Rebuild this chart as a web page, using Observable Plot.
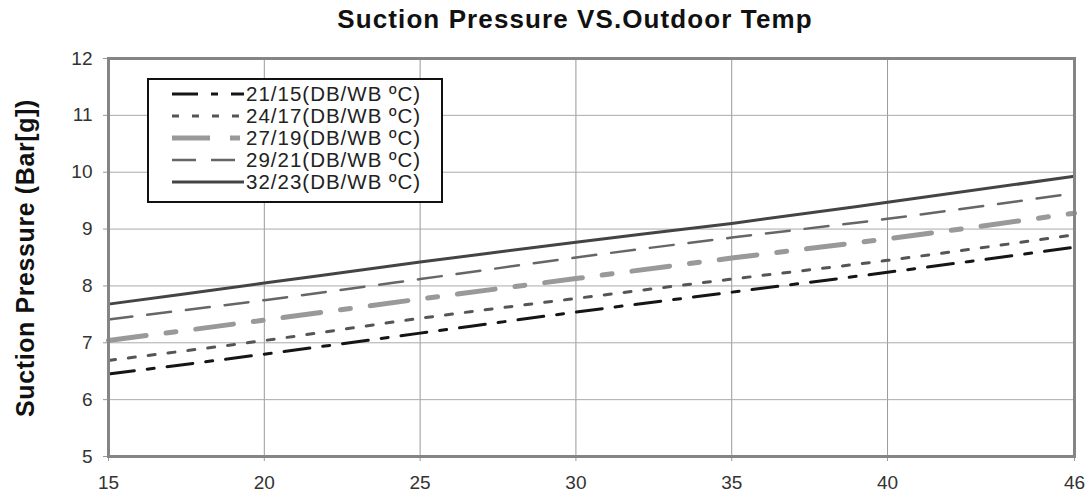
<!DOCTYPE html>
<html>
<head>
<meta charset="utf-8">
<script src="https://cdn.jsdelivr.net/npm/d3@7"></script>
<script src="https://cdn.jsdelivr.net/npm/@observablehq/plot@0.6"></script>
<style>
  body { margin: 0; background: #fff; font-family: "Liberation Sans", Arial, sans-serif; }
  #wrap { position: relative; width: 1091px; height: 499px; }
  #title { position: absolute; left: 0; top: 0; width: 1091px; height: 40px; }
  #title div { position: absolute; left: 69px; width: 1012px; top: 4px; text-align: center;
    font-weight: bold; font-size: 26px; letter-spacing: 1.1px; color: #111; }
  #chart { position: absolute; left: 0; top: 40px; }
  #ylab { position: absolute; left: 25px; top: 258px; transform: translate(-50%, -50%) rotate(-90deg);
    white-space: nowrap; font-weight: bold; font-size: 25px; letter-spacing: 0.6px; color: #111; }
  #legend { position: absolute; left: 147px; top: 78px; width: 292px; height: 121px;
    border: 2px solid #111; background: #fff; }
</style>
</head>
<body>
<div id="wrap">
  <div id="title"><div>Suction Pressure VS.Outdoor Temp</div></div>
  <div id="chart"></div>
  <div id="ylab">Suction Pressure (Bar[g])</div>
  <div id="legend"></div>
</div>
<script>
const temps   = [15, 20, 25, 30, 35, 40, 46];
const s21_15  = [6.45, 6.80, 7.17, 7.54, 7.89, 8.24, 8.68];
const s24_17  = [6.69, 7.04, 7.43, 7.78, 8.12, 8.45, 8.90];
const s27_19  = [7.04, 7.40, 7.77, 8.13, 8.49, 8.83, 9.28];
const s29_21  = [7.41, 7.75, 8.12, 8.50, 8.85, 9.18, 9.63];
const s32_23  = [7.68, 8.05, 8.42, 8.77, 9.10, 9.47, 9.93];
const seriesNames = ["21/15(DB/WB ºC)", "24/17(DB/WB ºC)", "27/19(DB/WB ºC)", "29/21(DB/WB ºC)", "32/23(DB/WB ºC)"];
const xTicks = [15, 20, 25, 30, 35, 40, 46];
const yTicks = [5, 6, 7, 8, 9, 10, 11, 12];

const seriesValues = [s21_15, s24_17, s27_19, s29_21, s32_23];
const styles = [
  {stroke: "#151515", strokeWidth: 3, dash: "26,13,7,13"},
  {stroke: "#555555", strokeWidth: 3, dash: "7,13"},
  {stroke: "#999999", strokeWidth: 5, dash: "38,20,10,20"},
  {stroke: "#666666", strokeWidth: 2.5, dash: "24,15"},
  {stroke: "#444444", strokeWidth: 3, dash: null}
];

const lineMarks = seriesValues.map((vals, i) => {
  const data = temps.map((t, j) => ({t, v: vals[j]}));
  const st = styles[i];
  return Plot.line(data, {x: "t", y: "v", stroke: st.stroke, strokeWidth: st.strokeWidth,
    strokeDasharray: st.dash ?? undefined, curve: "monotone-x"});
});

const fmt = d => String(d);
const plot = Plot.plot({
  width: 1091,
  height: 459,
  marginTop: 18,
  marginBottom: 43,
  marginLeft: 108,
  marginRight: 17,
  style: {fontFamily: "'Liberation Sans', Arial, sans-serif", fontSize: "19px", color: "#333", background: "#fff"},
  x: {domain: [15, 46], label: null},
  y: {domain: [5, 12], label: null},
  marks: [
    Plot.gridX(xTicks, {stroke: "#999", strokeOpacity: 1, strokeWidth: 1}),
    Plot.gridY(yTicks, {stroke: "#aaa", strokeOpacity: 1, strokeWidth: 1}),
    Plot.axisX(xTicks, {tickSize: 5, tickPadding: 14, tickFormat: fmt, stroke: "#999", fill: "#333", label: null}),
    Plot.axisY(yTicks, {tickSize: 5, tickPadding: 11, tickFormat: fmt, stroke: "#999", fill: "#333", label: null}),
    ...lineMarks,
    Plot.frame({stroke: "#858585", strokeWidth: 3})
  ]
});
document.getElementById("chart").appendChild(plot);

// legend
const leg = d3.select("#legend").append("svg").attr("width", 292).attr("height", 121)
  .style("position", "absolute").style("left", "0").style("top", "0");
seriesNames.forEach((name, i) => {
  const y = 14 + i * 22;
  const st = styles[i];
  leg.append("line").attr("x1", 23).attr("x2", 95).attr("y1", y).attr("y2", y)
    .attr("stroke", st.stroke).attr("stroke-width", st.strokeWidth)
    .attr("stroke-dasharray", st.dash);
  leg.append("text").attr("x", 97).attr("y", y).attr("dy", "0.36em")
    .attr("font-size", 20.5).attr("letter-spacing", 1).attr("fill", "#222")
    .attr("font-family", "'Liberation Sans', Arial, sans-serif").text(name);
});
</script>
</body>
</html>
